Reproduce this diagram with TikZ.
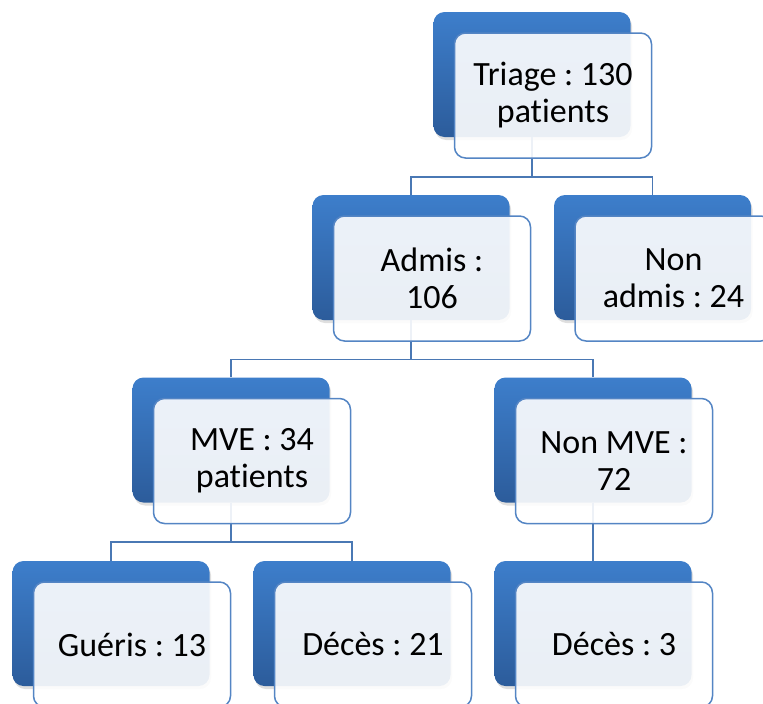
\documentclass[tikz,border=0pt]{standalone}
\usepackage{fontspec}
\setmainfont[RawFeature={-liga;-clig;-dlig}]{Carlito}
\usetikzlibrary{shadows}
\definecolor{backtop}{RGB}{61,126,203}
\definecolor{backbot}{RGB}{44,92,155}
\definecolor{frontline}{RGB}{84,133,196}
\definecolor{connline}{RGB}{74,120,180}
\tikzset{
  backbox/.style={rectangle, rounded corners=11pt, minimum width=197pt, minimum height=125pt,
    inner sep=0pt, top color=backtop, bottom color=backbot, draw=none,
    drop shadow={opacity=0.25, shadow xshift=1.5pt, shadow yshift=-3pt}},
  frontbox/.style={rectangle, rounded corners=11pt, minimum width=197pt, minimum height=125pt,
    inner sep=0pt, draw=frontline, line width=1.5pt, fill=white, fill opacity=0.9,
    text opacity=1, align=center, font=\fontsize{34}{37}\selectfont\frenchspacing},
  conn/.style={draw=connline, line width=1.5pt},
}
\begin{document}
\begin{tikzpicture}[x=1pt,y=-1pt]
\useasboundingbox (0,0) rectangle (763,704);
% back boxes
\node[backbox] (tb) at (532,74.5) {};
\node[backbox] (ab) at (411,257.5) {};
\node[backbox] (nb) at (652.5,257.5) {};
\node[backbox] (mb) at (231,440) {};
\node[backbox] (vb) at (593,440) {};
\node[backbox] (gb) at (111,623.5) {};
\node[backbox] (db) at (352,623.5) {};
\node[backbox] (eb) at (593,623.5) {};
% connectors
\draw[conn] (tb.south) |- ([yshift=18pt]ab.north) -- (ab.north);
\draw[conn] (tb.south) |- ([yshift=18pt]nb.north) -- (nb.north);
\draw[conn] (ab.south) |- ([yshift=18pt]mb.north) -- (mb.north);
\draw[conn] (ab.south) |- ([yshift=18pt]vb.north) -- (vb.north);
\draw[conn] (mb.south) |- ([yshift=19pt]gb.north) -- (gb.north);
\draw[conn] (mb.south) |- ([yshift=19pt]db.north) -- (db.north);
\draw[conn] (vb.south) -- (eb.north);
% front boxes
\node[frontbox] (t) at ([xshift=21pt,yshift=-21pt]tb.center) {Triage : 130\\patients};
\node[frontbox] (a) at ([xshift=21pt,yshift=-21pt]ab.center) {Admis :\\106};
\node[frontbox] (n) at ([xshift=21pt,yshift=-21pt]nb.center) {Non\\admis : 24};
\node[frontbox] (m) at ([xshift=21pt,yshift=-21pt]mb.center) {MVE : 34\\patients};
\node[frontbox] (v) at ([xshift=21pt,yshift=-21pt]vb.center) {Non MVE :\\72};
\node[frontbox] (g) at ([xshift=21pt,yshift=-21pt]gb.center) {Guéris : 13};
\node[frontbox] (d) at ([xshift=21pt,yshift=-21pt]db.center) {Décès : 21};
\node[frontbox] (e) at ([xshift=21pt,yshift=-21pt]eb.center) {Décès : 3};
\end{tikzpicture}
\end{document}
